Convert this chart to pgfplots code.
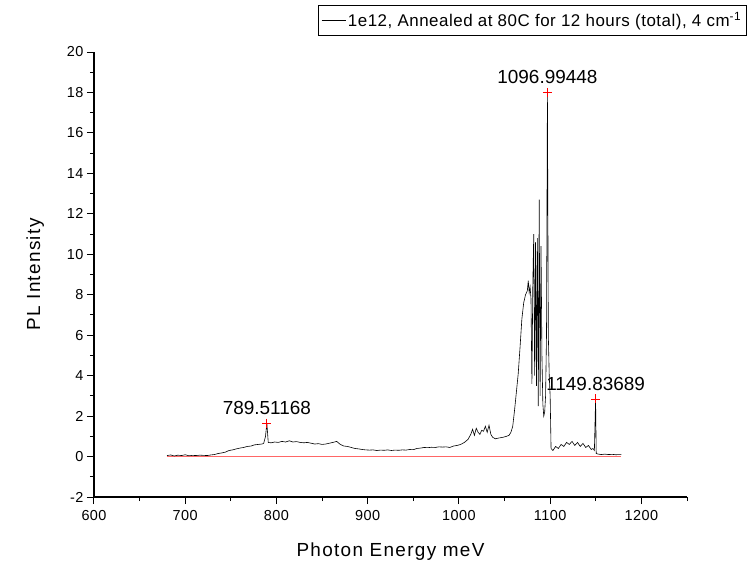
\documentclass[border=0pt]{standalone}
\usepackage{pgfplots}
\pgfplotsset{compat=1.18}
\usepackage{fontspec}
\setmainfont{Liberation Sans}
\begin{document}
\begin{tikzpicture}
\begin{axis}[
  scale only axis,
  width=593bp, height=445bp,
  xmin=600, xmax=1250, ymin=-2, ymax=20,
  axis x line*=bottom, axis y line*=left,
  axis line style={line width=1.1pt},
  xtick={600,700,...,1200}, minor xtick={650,750,...,1250},
  ytick={-2,0,...,20}, minor ytick={-1,1,...,19},
  tick align=outside,
  major tick length=7bp, minor tick length=4bp,
  every tick/.style={black, line width=1pt},
  /pgf/number format/assume math mode=true,
  /pgf/number format/1000 sep={},
  tick label style={font=\fontsize{14.5}{16}\selectfont\addfontfeature{LetterSpace=3}},
  xticklabel style={yshift=-3bp},
  xlabel={Photon Energy meV}, ylabel={PL Intensity},
  label style={font=\fontsize{19}{21}\selectfont\addfontfeature{LetterSpace=7}},
  xlabel style={yshift=-15bp},
  ylabel style={yshift=16bp},
  clip=false,
  legend style={at={(rel axis cs:0.3777,1.1056)}, anchor=north west, draw=black, line width=0.8pt, fill=white, sharp corners,
    font=\fontsize{17}{19}\selectfont\addfontfeature{LetterSpace=3}, inner xsep=3bp, inner ysep=5bp},
  legend image code/.code={\draw[black, line width=0.6pt] (0bp,0bp) -- (24bp,0bp);},
]
\coordinate (bbA) at (rel axis cs:-0.1585,-0.1573);
\coordinate (bbB) at (rel axis cs:1.1012,1.1169);
\addplot[red!60, line width=1.3pt, forget plot] coordinates {(680,0) (1178,0)};
\addplot[black, line width=0.6pt, mark=none] coordinates {
(680,0.05) (684,0.08) (688,0.03) (692,0.07) (696,0.05) (700,0.09) (704,0.04) (708,0.06)
(712,0.05) (716,0.07) (720,0.06) (724,0.05) (728,0.08) (732,0.10) (736,0.15) (740,0.18)
(744,0.22) (748,0.30) (752,0.33) (756,0.38) (760,0.42) (764,0.45) (768,0.50) (772,0.52)
(776,0.58) (780,0.60) (784,0.62) (786,0.65) (788,1.0) (789.5,1.65) (791,0.70) (794,0.68)
(798,0.72) (802,0.70) (806,0.75) (810,0.72) (814,0.78) (818,0.72) (822,0.74) (826,0.70)
(830,0.68) (834,0.70) (838,0.66) (842,0.62) (846,0.64) (850,0.60) (854,0.62) (858,0.66)
(862,0.70) (866,0.75) (870,0.60) (874,0.52) (878,0.50) (882,0.45) (886,0.40) (890,0.38)
(894,0.35) (898,0.33) (902,0.32) (906,0.33) (910,0.30) (914,0.32) (918,0.31) (922,0.33)
(926,0.30) (930,0.32) (934,0.31) (938,0.33) (942,0.32) (946,0.35) (950,0.34) (954,0.40)
(958,0.42) (962,0.45) (966,0.44) (970,0.46) (974,0.45) (978,0.48) (982,0.47) (986,0.48)
(990,0.45) (994,0.52) (998,0.55) (1002,0.60) (1006,0.70) (1010,0.85) (1013,1.10) (1015,1.35)
(1017,1.05) (1019,1.40) (1021,1.20) (1023,1.10) (1025,1.30) (1027,1.25) (1029,1.50) (1031,1.20)
(1033,1.55) (1035,1.10) (1037,0.95) (1040,0.88) (1044,0.92) (1048,0.95) (1052,1.00) (1055,1.05)
(1057,1.20) (1059,1.50) (1061,2.30) (1063,3.20) (1065,4.10) (1067,5.40) (1069,6.80) (1071,7.60)
(1073,8.00) (1075,8.20) (1076,8.70) (1077,8.10) (1078,8.40) (1079,7.80) (1080,3.60) (1081,8.50)
(1082,11.0) (1083,4.00) (1084,10.6) (1085,3.50) (1086,10.8) (1087,2.50) (1088,12.7) (1089,3.00)
(1090,10.4) (1091,5.0) (1092,2.6) (1093,2.0) (1094,2.2) (1095,3.0) (1096,6.0) (1097,18.0)
(1098,6.0) (1099,4.0) (1100,3.0) (1101,0.4) (1103,0.3) (1106,0.5) (1109,0.4) (1112,0.6)
(1115,0.5) (1118,0.7) (1121,0.6) (1124,0.75) (1127,0.55) (1130,0.7) (1133,0.5) (1136,0.65)
(1139,0.45) (1142,0.55) (1145,0.35) (1147,0.4) (1148.5,0.3) (1149.8,2.85) (1150.5,0.15) (1153,0.12)
(1156,0.10) (1160,0.12) (1164,0.10) (1168,0.11) (1172,0.09) (1176,0.10) (1178,0.10)
};
\addlegendentry{1e12, Annealed at 80C for 12 hours (total), 4 cm\textsuperscript{-1}}
\addplot[red, only marks, mark=+, mark size=4.5bp, mark options={line width=0.8pt}, forget plot,
  nodes near coords, point meta=explicit symbolic,
  every node near coord/.style={black, anchor=south, yshift=5bp, font=\fontsize{19}{21}\selectfont}]
  coordinates {(789.51168,1.65) [789.51168] (1096.99448,18.0) [1096.99448] (1149.83689,2.85) [1149.83689]};
\end{axis}
\pgfresetboundingbox
\path[use as bounding box] (bbA) rectangle (bbB);
\end{tikzpicture}
\end{document}
